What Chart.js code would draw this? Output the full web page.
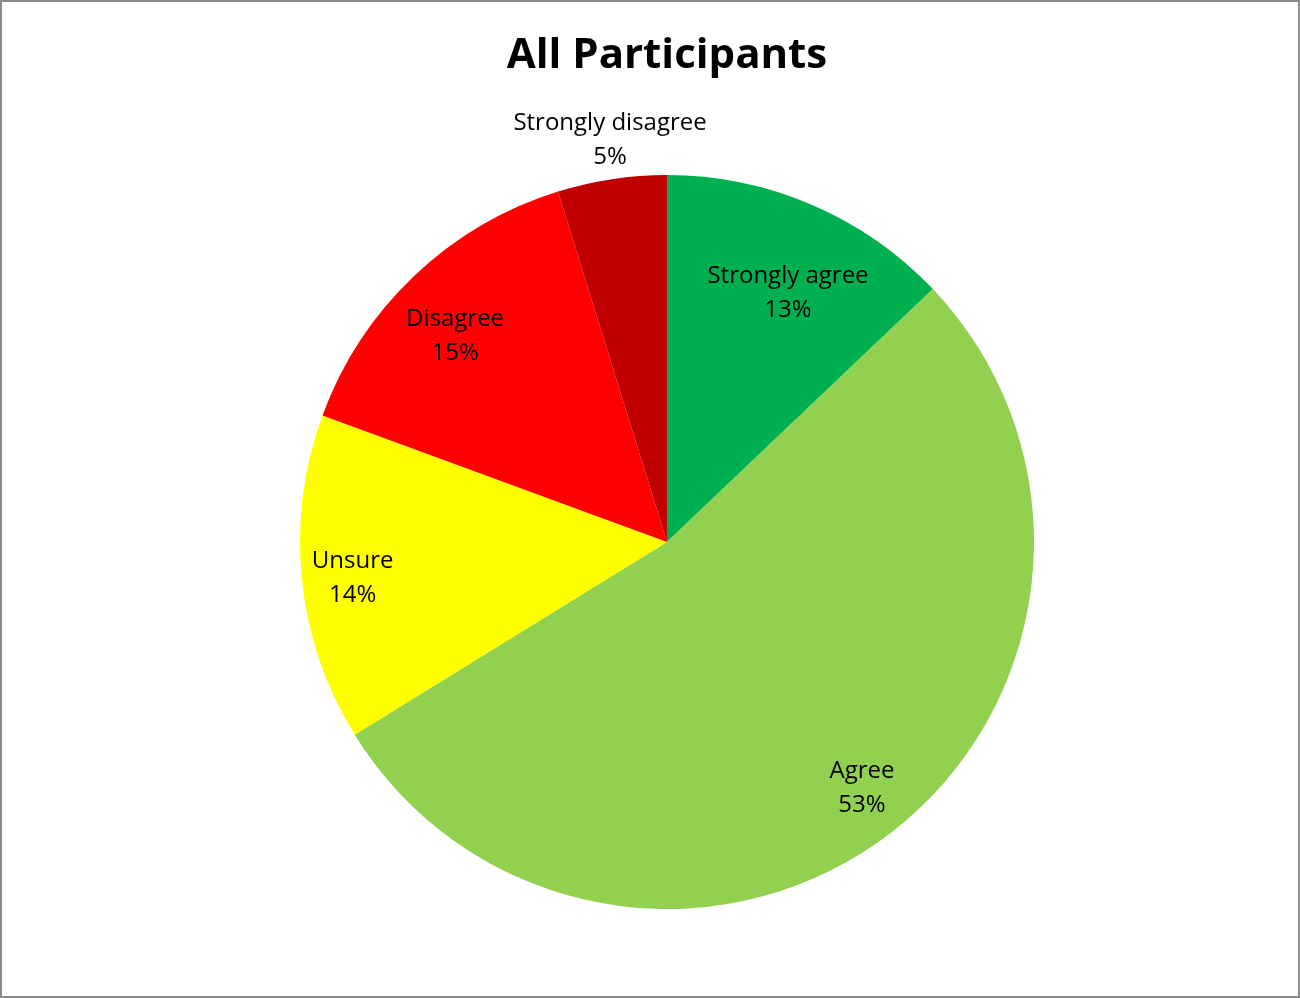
<!DOCTYPE html>
<html>
<head>
<meta charset="utf-8">
<script src="https://cdn.jsdelivr.net/npm/chart.js@4.4.1/dist/chart.umd.min.js"></script>
<style>
    html, body { margin: 0; padding: 0; background: #fff; }
    #wrap { width: 1300px; height: 998px; position: relative; }
</style>
</head>
<body>
<div id="wrap"><canvas id="grafico" width="1300" height="998"></canvas></div>
<script>
// dados (fatias; rótulos arredondados)
const categorias = ["Strongly agree", "Agree", "Unsure", "Disagree", "Strongly disagree"];
const percentagens = [12.9, 53.3, 14.4, 14.6, 4.8];
const cores = ["#00B050", "#92D050", "#FFFF00", "#FF0000", "#C00000"];

// posição dos rótulos: fração do raio e desvio angular (graus) face à bissetriz
const posRotulo = [0.757, 0.853, 0.862, 0.806, 1.109];
const desvioAngulo = [2.6, -0.9, -0.7, -2.2, 0.6];

const FONTE = "'Open Sans', Lato, sans-serif";

// ---------------------------------------------------------------
// rótulos de dados (nome + %)
// ---------------------------------------------------------------
const rotulosPlugin = {
    id: "rotulos",
    afterDatasetsDraw(chart) {
        const ctx = chart.ctx;
        const meta = chart.getDatasetMeta(0);
        ctx.save();
        ctx.fillStyle = "#000";
        ctx.font = "24px " + FONTE;
        ctx.textAlign = "center";
        ctx.textBaseline = "middle";
        meta.data.forEach((arc, i) => {
            const p = arc.getProps(["x", "y", "startAngle", "endAngle", "outerRadius"], true);
            const meio = (p.startAngle + p.endAngle) / 2 + desvioAngulo[i] * Math.PI / 180;
            const r = p.outerRadius * posRotulo[i];
            const x = p.x + Math.cos(meio) * r;
            const y = p.y + Math.sin(meio) * r;
            ctx.fillText(categorias[i], x, y - 16);
            ctx.fillText(Math.round(percentagens[i]) + "%", x, y + 18);
        });
        ctx.restore();
    },
    afterDraw(chart) {
        // moldura cinzenta
        const ctx = chart.ctx;
        ctx.save();
        ctx.strokeStyle = "#8c8c8c";
        ctx.lineWidth = 2;
        ctx.strokeRect(1, 1, chart.width - 2, chart.height - 2);
        ctx.restore();
    }
};

new Chart(document.getElementById("grafico"), {
    type: "pie",
    data: {
        labels: categorias,
        datasets: [{
            data: percentagens,
            backgroundColor: cores,
            borderWidth: 0
        }]
    },
    options: {
        responsive: false,
        animation: false,
        layout: { padding: { left: 34, right: 0, top: 0, bottom: 89 } },
        plugins: {
            legend: { display: false },
            tooltip: { enabled: false },
            title: {
                display: true,
                text: "All Participants",
                color: "#000",
                font: { family: FONTE, size: 42, weight: "bold", lineHeight: 1.2 },
                padding: { top: 31, bottom: 93.6 }
            }
        }
    },
    plugins: [rotulosPlugin]
});
</script>
</body>
</html>
